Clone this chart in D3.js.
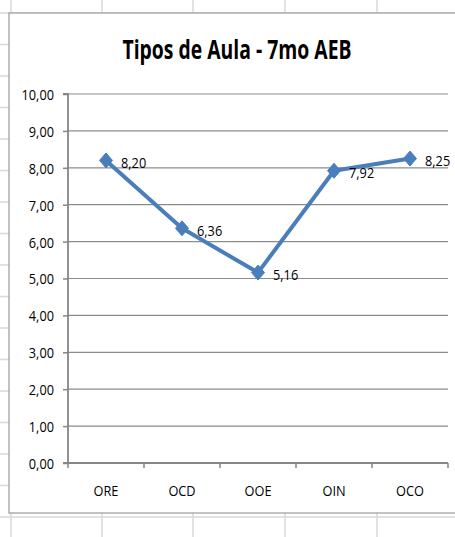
<!DOCTYPE html>
<html><head><meta charset="utf-8">
<script src="https://cdn.jsdelivr.net/npm/d3@7"></script>
<style>html,body{margin:0;padding:0;background:#fff;}svg{display:block;}</style>
</head><body>
<svg id="c" width="455" height="537"></svg>
<script>
const categories = ["ORE","OCD","OOE","OIN","OCO"];
const values = [8.20, 6.36, 5.16, 7.92, 8.25];
const yTicks = [0,1,2,3,4,5,6,7,8,9,10];
const title = "Tipos de Aula - 7mo AEB";
const fmt = v => v.toFixed(2).replace(".", ",");

const svg = d3.select("#c");
const FONT = "'Open Sans','DejaVu Sans',sans-serif";
const condense = (sel, k) => sel.each(function(){
  const w = this.getComputedTextLength();
  d3.select(this).attr("textLength", w*k).attr("lengthAdjust","spacingAndGlyphs");
});

// spreadsheet background gridlines
const sheetCols = [11,102,193,285,377];
const sheetRows = d3.range(13, 537, 31.5);
const bg = svg.append("g");
sheetCols.forEach(x => bg.append("line").attr("x1",x).attr("x2",x).attr("y1",0).attr("y2",537).attr("stroke","#d9d9d9").attr("stroke-width",1.5));
sheetRows.forEach(y => bg.append("line").attr("x1",0).attr("x2",455).attr("y1",y).attr("y2",y).attr("stroke","#d9d9d9").attr("stroke-width",1.5));

// chart area
svg.append("rect").attr("x",9).attr("y",13).attr("width",460).attr("height",500).attr("fill","#fff").attr("stroke","#9a9a9a").attr("stroke-width",1.2);

const x0 = 68, x1 = 448, yTop = 94, yBot = 463;
const x = d3.scaleBand().domain(categories).range([x0, x1]);
const y = d3.scaleLinear().domain([0,10]).range([yBot, yTop]);

// gridlines
svg.append("g").selectAll("line").data(yTicks.filter(t=>t>0)).join("line")
  .attr("x1",x0).attr("x2",x1).attr("y1",d=>y(d)).attr("y2",d=>y(d))
  .attr("stroke","#8c8c8c").attr("stroke-width",1.2);

// y axis
const ya = svg.append("g").attr("transform",`translate(${x0},0)`)
  .call(d3.axisLeft(y).tickValues(yTicks).tickFormat(fmt).tickSize(5).tickPadding(9));
ya.select(".domain").attr("stroke","#868686").attr("stroke-width",1.8).attr("d",`M-5,${yBot}H0V${yTop}H-5`);
ya.selectAll(".tick line").attr("stroke","#868686").attr("stroke-width",1.5);
ya.selectAll("text").attr("font-family",FONT).attr("font-size",15).attr("fill","#000").attr("dy","0.36em").call(condense,0.85);

// x axis
const xa = svg.append("g").attr("transform",`translate(0,${yBot})`)
  .call(d3.axisBottom(x).tickSize(0).tickPadding(22));
xa.select(".domain").attr("stroke","#868686").attr("stroke-width",1.8).attr("d",`M${x0},0H${x1}`);
xa.selectAll("text").attr("font-family",FONT).attr("font-size",15).attr("fill","#000").call(condense,0.85);
const bounds = categories.map(c=>x(c)).concat([x1]);
svg.append("g").selectAll("line").data(bounds).join("line")
  .attr("x1",d=>d).attr("x2",d=>d).attr("y1",yBot).attr("y2",yBot+5)
  .attr("stroke","#868686").attr("stroke-width",1.5);

// line
const cx = c => x(c) + x.bandwidth()/2;
svg.append("path").datum(values)
  .attr("d", d3.line().x((d,i)=>cx(categories[i])).y(d=>y(d)))
  .attr("fill","none").attr("stroke","#4a7ebb").attr("stroke-width",4).attr("stroke-linejoin","round");

// markers
svg.append("g").selectAll("path").data(values).join("path")
  .attr("transform",(d,i)=>`translate(${cx(categories[i])},${y(d)})`)
  .attr("d","M0,-7.5L6.5,0L0,7.5L-6.5,0Z").attr("fill","#4a7ebb").attr("stroke","#4a7ebb").attr("stroke-width",1);

// data labels
svg.append("g").selectAll("text").data(values).join("text")
  .attr("x",(d,i)=>cx(categories[i])+15).attr("y",d=>y(d)+7.5)
  .attr("font-family",FONT).attr("font-size",15).attr("fill","#000")
  .text(fmt).call(condense,0.85);

// title
svg.append("text").attr("x",237).attr("y",59).attr("text-anchor","middle")
  .attr("font-family",FONT).attr("font-weight","bold").attr("font-size",27)
  .attr("textLength",229).attr("lengthAdjust","spacingAndGlyphs").text(title);
</script>
</body></html>
